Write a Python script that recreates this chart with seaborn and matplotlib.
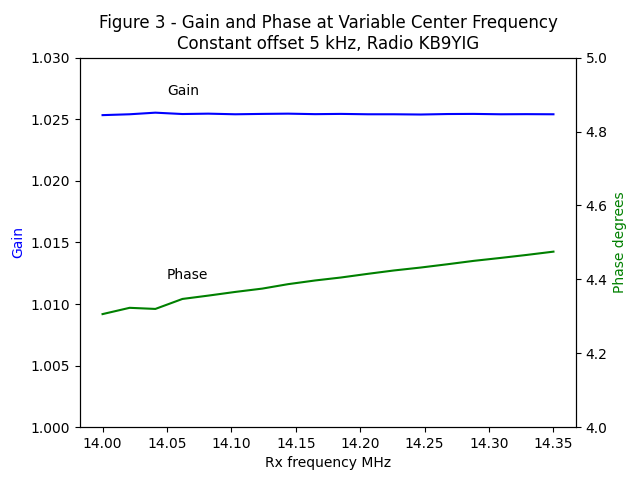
import seaborn as sns
import matplotlib
matplotlib.use('Agg')
import matplotlib.pyplot as plt

freq_mhz = [14.000, 14.021, 14.041, 14.062, 14.082, 14.103, 14.124, 14.144, 14.165,
            14.185, 14.206, 14.226, 14.247, 14.268, 14.288, 14.309, 14.329, 14.350]
gain = [1.02533, 1.02540, 1.02553, 1.02542, 1.02545, 1.02540, 1.02543, 1.02545, 1.02541,
        1.02543, 1.02540, 1.02540, 1.02538, 1.02542, 1.02543, 1.02540, 1.02541, 1.02540]
phase = [4.306, 4.323, 4.320, 4.347, 4.356, 4.366, 4.375, 4.387, 4.397,
         4.405, 4.415, 4.424, 4.432, 4.441, 4.450, 4.458, 4.466, 4.475]

fig, ax = plt.subplots(figsize=(6.4, 4.8), dpi=100)
sns.lineplot(x=freq_mhz, y=gain, color='blue', ax=ax)
ax.set_ylim(1.0, 1.03)
ax.set_ylabel('Gain', color='blue')
ax.set_xlabel('Rx frequency MHz')
ax.text(14.05, 1.027, 'Gain')

ax2 = ax.twinx()
sns.lineplot(x=freq_mhz, y=phase, color='green', ax=ax2)
ax2.set_ylim(4.0, 5.0)
ax2.set_ylabel('Phase degrees', color='green')
ax2.text(14.05, 4.4, 'Phase')

ax.set_title('Figure 3 - Gain and Phase at Variable Center Frequency\nConstant offset 5 kHz, Radio KB9YIG')
fig.savefig('out.png', dpi=100)
